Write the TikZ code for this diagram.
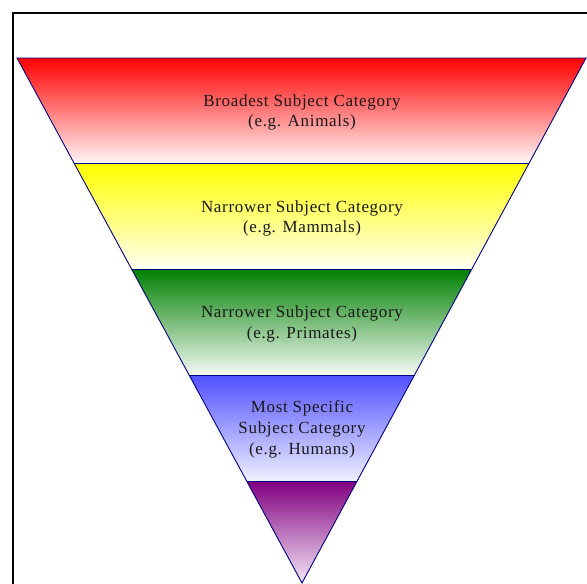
\documentclass[tikz,border=0pt]{standalone}
\usepackage{fontspec}
\setmainfont{Liberation Serif}[LetterSpace=4]
\begin{document}
\begin{tikzpicture}[x=1pt,y=-1pt,
  band/.style={draw=blue!50!black, line width=0.9pt, line join=miter},
  lbl/.style={align=center, text=black!90, font=\fontsize{17}{20.8}\selectfont, inner sep=0pt}]
\useasboundingbox (0,0) rectangle (587,584);
% frame
\draw[line width=2pt] (13,590) -- (13,12.5) -- (590,12.5);
% corners
\coordinate (L0) at (17,58);      \coordinate (R0) at (586,58);
\coordinate (L1) at (74.3,163.5); \coordinate (R1) at (528.9,163.5);
\coordinate (L2) at (131.5,269);  \coordinate (R2) at (471.8,269);
\coordinate (L3) at (189.1,375);  \coordinate (R3) at (414.5,375);
\coordinate (L4) at (246.6,481);  \coordinate (R4) at (357.2,481);
\coordinate (A) at (302,583);
% bands
\shade[top color=red, bottom color=red!3] (L0) -- (R0) -- (R1) -- (L1) -- cycle;
\shade[top color=yellow, bottom color=yellow!5] (L1) -- (R1) -- (R2) -- (L2) -- cycle;
\shade[top color=green!50!black, bottom color=green!50!black!4] (L2) -- (R2) -- (R3) -- (L3) -- cycle;
\shade[top color={rgb,255:red,80;green,80;blue,255}, bottom color={rgb,255:red,240;green,240;blue,255}] (L3) -- (R3) -- (R4) -- (L4) -- cycle;
\shade[top color={rgb,255:red,128;green,0;blue,128}, bottom color={rgb,255:red,245;green,230;blue,245}] (L4) -- (R4) -- (A) -- cycle;
\draw[band] (L0) -- (R0) -- (A) -- cycle;
\draw[band] (L1) -- (R1);
\draw[band] (L2) -- (R2);
\draw[band] (L3) -- (R3);
\draw[band] (L4) -- (R4);
% labels
\node[lbl] (t1) at (302,112.5) {Broadest Subject Category\\(e.g. Animals)};
\node[lbl] (t2) at (302,218.5) {Narrower Subject Category\\(e.g. Mammals)};
\node[lbl] (t3) at (302,324) {Narrower Subject Category\\(e.g. Primates)};
\node[lbl] (t4) at (302,429.5) {Most Specific\\Subject Category\\(e.g. Humans)};
\end{tikzpicture}
\end{document}
